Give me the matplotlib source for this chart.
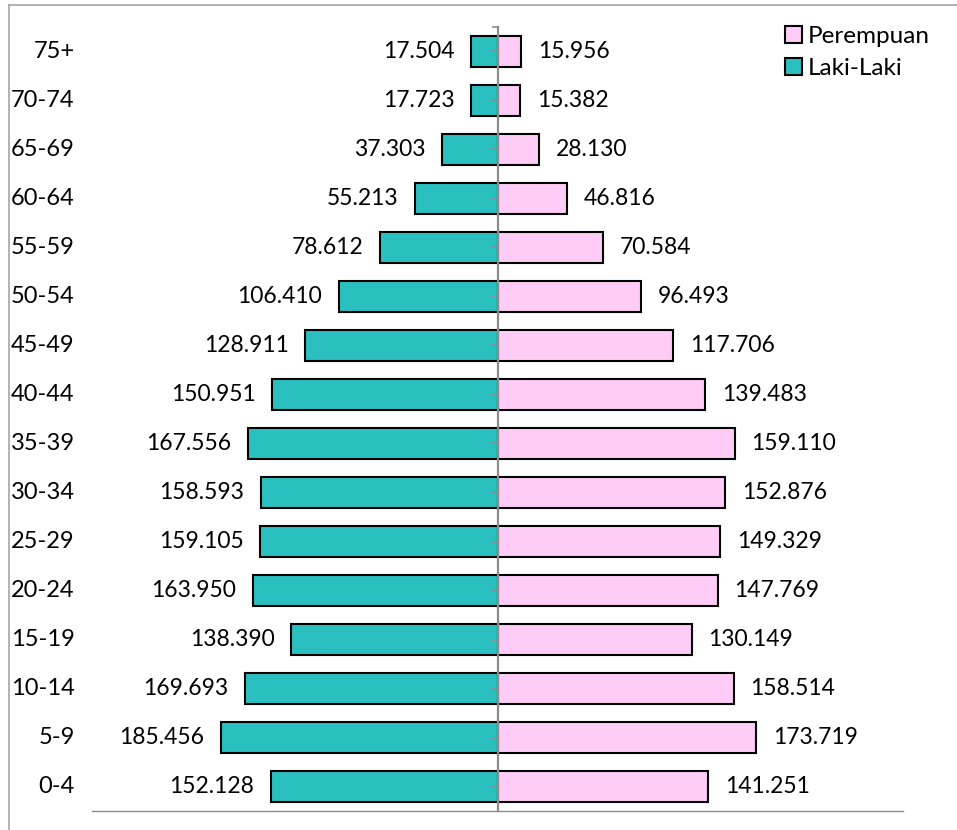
import matplotlib.pyplot as plt
from matplotlib.patches import Patch
from matplotlib.lines import Line2D

plt.rcParams["font.family"] = ["Lato", "DejaVu Sans"]

# data (ribu jiwa)
groups = ["0-4", "5-9", "10-14", "15-19", "20-24", "25-29", "30-34", "35-39",
          "40-44", "45-49", "50-54", "55-59", "60-64", "65-69", "70-74", "75+"]
laki = [152.128, 185.456, 169.693, 138.390, 163.950, 159.105, 158.593, 167.556,
        150.951, 128.911, 106.410, 78.612, 55.213, 37.303, 17.723, 17.504]
perempuan = [141.251, 173.719, 158.514, 130.149, 147.769, 149.329, 152.876, 159.110,
             139.483, 117.706, 96.493, 70.584, 46.816, 28.130, 15.382, 15.956]

teal = "#2BC0C0"
pink = "#FFCCF8"
grey = "#8C8C8C"

W, H = 957, 830
fig = plt.figure(figsize=(W / 100, H / 100), dpi=100)
ax = fig.add_axes([92 / W, (H - 811) / H, (903 - 92) / W, (811 - 27) / H])

y = list(range(len(groups)))
ax.barh(y, [-v for v in laki], height=0.65, color=teal, edgecolor="black", linewidth=1.5)
ax.barh(y, perempuan, height=0.65, color=pink, edgecolor="black", linewidth=1.5)

ax.set_xlim(-272, 272)
ax.set_ylim(-0.5, len(groups) - 0.5)

# value labels
for i in y:
    ax.annotate(f"{laki[i]:.3f}", (-laki[i], i), xytext=(-12, 0), textcoords="offset points",
                ha="right", va="center", fontsize=16.5)
    ax.annotate(f"{perempuan[i]:.3f}", (perempuan[i], i), xytext=(12, 0), textcoords="offset points",
                ha="left", va="center", fontsize=16.5)
    # group labels at the left
    ax.annotate(groups[i], (0, i), xycoords=("axes fraction", "data"), xytext=(-12.5, 0),
                textcoords="offset points", ha="right", va="center", fontsize=17)

# axes
for s in ["top", "right"]:
    ax.spines[s].set_visible(False)
ax.spines["left"].set_position(("data", 0))
ax.spines["left"].set_color(grey)
ax.spines["left"].set_linewidth(1.6)
ax.spines["bottom"].set_color(grey)
ax.spines["bottom"].set_linewidth(1)
ax.set_yticks(y)
ax.set_yticklabels([])
ax.set_yticks([len(groups) - 0.5], minor=True)
ax.tick_params(axis="y", which="both", length=4, width=1.2, color=grey, direction="out")
ax.set_xticks([])

handles = [Patch(facecolor=pink, edgecolor="black", linewidth=1.5),
           Patch(facecolor=teal, edgecolor="black", linewidth=1.5)]
fig.legend(handles, ["Perempuan", "Laki-Laki"], loc="upper left",
           bbox_to_anchor=(785 / W, 1 - 26 / H), frameon=False, fontsize=17.5,
           handlelength=0.7, handleheight=0.7, handletextpad=0.25, labelspacing=0.45,
           borderpad=0, borderaxespad=0)

# chart border
fig.add_artist(Line2D([8.5 / W, 8.5 / W], [0, 1 - 5.5 / H], color="#A6A6A6", linewidth=1.2))
fig.add_artist(Line2D([8.5 / W, 1], [1 - 5.5 / H, 1 - 5.5 / H], color="#A6A6A6", linewidth=1.2))

plt.savefig("out.png", dpi=100)
